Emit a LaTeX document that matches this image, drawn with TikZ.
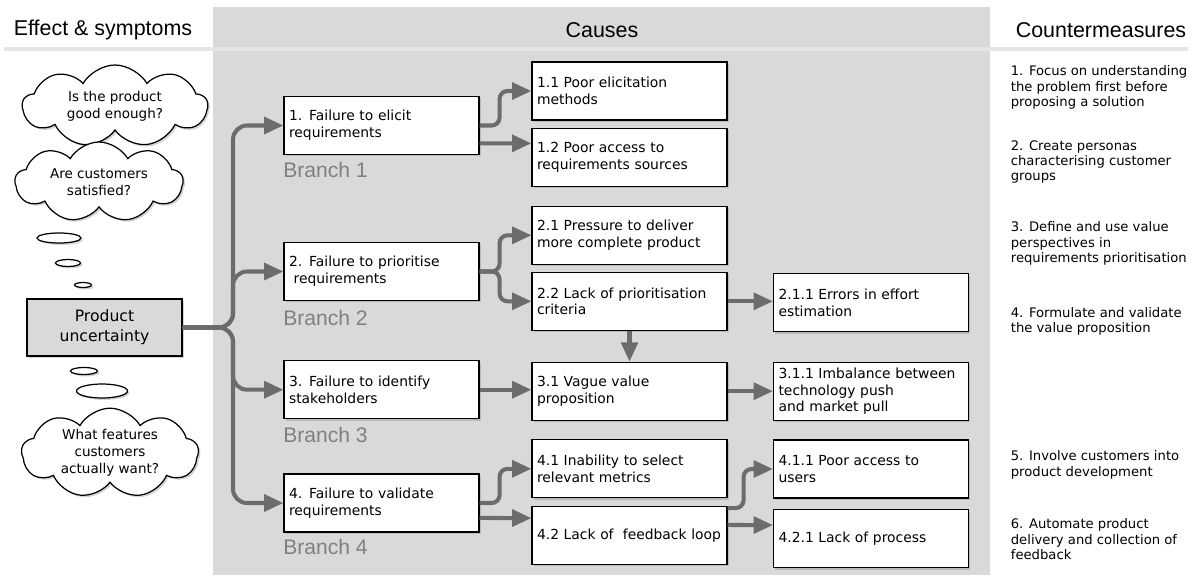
\documentclass[tikz,border=0pt]{standalone}
\usepackage{fontspec}
\setmainfont{DejaVu Sans}
\newfontfamily\headfont{Liberation Sans}
\usepackage{tikz}
\definecolor{panelgray}{RGB}{217,217,217}
\definecolor{rulegray}{RGB}{229,229,229}
\definecolor{linkgray}{RGB}{108,108,108}
\definecolor{branchgray}{RGB}{128,128,128}
\colorlet{effectgray}{panelgray}
\usetikzlibrary{arrows.meta}
\usetikzlibrary{shapes.symbols}
\usetikzlibrary{shapes.geometric}
\usetikzlibrary{shadows}
\newcommand\boxfont{\fontsize{7.9}{9.6}\selectfont}
\newcommand\thinkfont{\fontsize{7.7}{9.6}\selectfont}
\tikzset{
	softshadow/.style={drop shadow={shadow xshift=1.1pt,shadow yshift=-1.1pt,opacity=0.35}},
	cause/.style={rectangle,draw=black,fill=white,line width=0.7pt,minimum width=3.9cm,minimum height=1.16cm,
		text width=3.7cm,inner xsep=0.1cm,inner ysep=1pt,align=left,font=\boxfont,softshadow},
	effect/.style={rectangle,draw=black,fill=effectgray,line width=0.7pt,minimum width=3.1cm,minimum height=1.14cm,
		inner sep=1pt,align=center,font=\fontsize{8.9}{11.3}\selectfont,softshadow},
	thought/.style={cloud,cloud puffs=9,cloud puff arc=120,cloud ignores aspect,draw=black,fill=white,
		line width=0.7pt,inner sep=0pt,align=center,font=\thinkfont,softshadow},
	bubble/.style={ellipse,draw=black,fill=white,line width=0.7pt,inner sep=0pt,softshadow},
	head/.style={font=\headfont\fontsize{12.2}{14}\selectfont},
	branch/.style={anchor=west,inner sep=0pt,text=branchgray,font=\headfont\fontsize{12}{14}\selectfont},
	measure/.style={anchor=west,inner sep=0pt,align=left,font=\fontsize{7.5}{8.8}\selectfont},
	link/.style={draw=linkgray,line width=2.3pt,rounded corners=4.5pt,-{Triangle[length=11pt,width=9.5pt]}},
	trunk/.style={link,rounded corners=8pt},
}

\begin{document}
\begin{tikzpicture}[x=0.02cm,y=-0.02cm]
%BACKGROUND
\useasboundingbox (0,0) rectangle (1199,575);
\fill[panelgray] (213,7) rectangle (990,575);
\draw[rulegray,line width=1.8pt,line cap=round] (5,49) -- (1187,49);
%HEADERS
\node[head] (hdeff) at (103,30) {Effect \& symptoms};
\node[head] (hdcau) at (602,30) {Causes};
\node[head] (hdcm) at (1101,30) {Countermeasures};
%THOUGHTS
\node[thought,minimum width=3.7cm,minimum height=1.64cm] (q1) at (115,106) {Is the product\\good enough?};
\node[thought,minimum width=3.36cm,minimum height=1.6cm] (q2) at (99,182) {Are customers\\satisfied?};
\node[thought,minimum width=3.54cm,minimum height=1.7cm] (q3) at (110,453) {What features\\customers\\actually want?};
\node[bubble,minimum width=0.88cm,minimum height=0.2cm] (bb1) at (59,238) {};
\node[bubble,minimum width=0.5cm,minimum height=0.14cm] (bb2) at (68,263) {};
\node[bubble,minimum width=0.34cm,minimum height=0.1cm] (bb3) at (83,285) {};
\node[bubble,minimum width=0.54cm,minimum height=0.14cm] (bb4) at (84,371) {};
\node[bubble,minimum width=1.02cm,minimum height=0.28cm] (bb5) at (102,391) {};
%EFFECT
\node[effect] (pu) at (104.5,327.5) {Product\\uncertainty};
%LEVEL 1
\node[cause] (b1) at (381.5,125.5) {1. Failure to elicit\\requirements};
\node[cause] (b2) at (381.5,271.5) {2. Failure to prioritise\\~requirements};
\node[cause] (b3) at (381.5,389.7) {3. Failure to identify\\stakeholders};
\node[cause] (b4) at (381.5,503) {4. Failure to validate\\requirements};
\node[branch] (br1) at (283,170) {Branch 1};
\node[branch] (br2) at (283,318) {Branch 2};
\node[branch] (br3) at (283,435) {Branch 3};
\node[branch] (br4) at (283,547) {Branch 4};
%LEVEL 2
\node[cause] (b11) at (629.5,91) {1.1 Poor elicitation\\methods};
\node[cause] (b12) at (629.5,157.2) {1.2 Poor access to\\requirements sources};
\node[cause] (b21) at (629.5,235.3) {2.1 Pressure to deliver\\more complete product};
\node[cause] (b22) at (629.5,301.3) {2.2 Lack of prioritisation\\criteria};
\node[cause] (b31) at (629.5,391.2) {3.1 Vague value\\proposition};
\node[cause] (b41) at (629.5,468.8) {4.1 Inability to select\\relevant metrics};
\node[cause] (b42) at (629.5,535.5) {\mbox{4.2 Lack of~ feedback loop}};
%LEVEL 3
\node[cause] (b211) at (871,302.8) {2.1.1 Errors in effort\\estimation};
\node[cause] (b311) at (871,391.2) {3.1.1 Imbalance between\\technology push\\and market pull};
\node[cause] (b411) at (871,469) {4.1.1 Poor access to\\users};
\node[cause] (b421) at (871,538.8) {4.2.1 Lack of process};
%COUNTERMEASURES
\node[measure] (cm1) at (1010.5,87.5) {1. Focus on understanding\\the problem first before\\proposing a solution};
\node[measure] (cm2) at (1010.5,162) {2. Create personas\\characterising customer\\groups};
\node[measure] (cm3) at (1010.5,243.5) {3. Define and use value\\perspectives in\\requirements prioritisation};
\node[measure] (cm4) at (1010.5,321.5) {4. Formulate and validate\\the value proposition};
\node[measure] (cm5) at (1010.5,465) {5. Involve customers into\\product development};
\node[measure] (cm6) at (1010.5,539.5) {6. Automate product\\delivery and collection of\\feedback};
%TRUNK
\coordinate (fork) at (233,327.5);
\draw[trunk] (pu.east) -- (fork) |- (b1.west);
\draw[trunk] (pu.east) -- (fork) |- (b2.west);
\draw[trunk] (pu.east) -- (fork) |- (b3.west);
\draw[trunk] (pu.east) -- (fork) |- (b4.west);
%BRANCHES
\draw[link] (b1.east) -- ++(20,0) |- (b11.west);
\draw[link] ([yshift=-10.2pt]b1.east) -- ([yshift=7.9pt]b12.west);
\draw[link] (b2.east) -- ++(20,0) |- (b21.west);
\draw[link] (b2.east) -- ++(20,0) |- (b22.west);
\draw[link] (b3.east) -- (b3.east -| b31.west);
\draw[link] (b4.east) -- ++(20,0) |- (b41.west);
\draw[link] ([yshift=-8.5pt]b4.east) -- ([yshift=9.9pt]b42.west);
\draw[link] (b22.east) -- (b22.east -| b211.west);
\draw[link] (b22.south) -- (b31.north);
\draw[link] (b31.east) -- (b31.east -| b311.west);
\draw[link] ([yshift=15.6pt]b42.east) -- ++(16,0) |- (b411.west);
\draw[link] ([yshift=6pt]b42.east) -- ([yshift=7.8pt]b421.west);
\end{tikzpicture}
\end{document}
